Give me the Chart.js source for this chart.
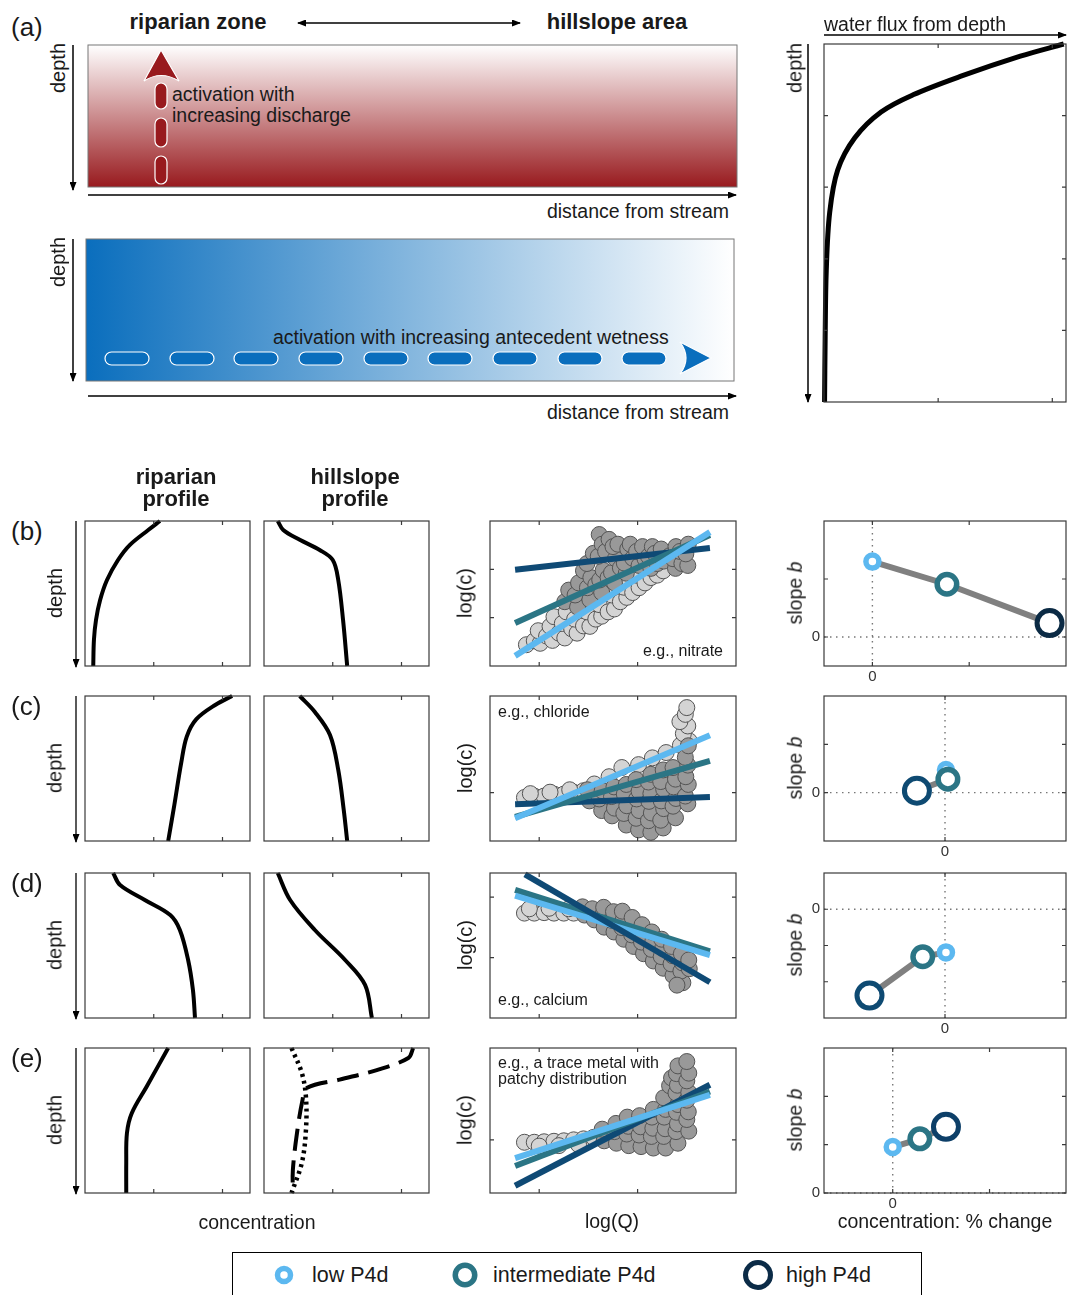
<!DOCTYPE html>
<html>
<head>
<meta charset="utf-8">
<script src="https://cdn.jsdelivr.net/npm/chart.js@4.4.0/dist/chart.umd.min.js"></script>
<style>
  body { margin: 0; width: 1067px; height: 1295px; overflow: hidden; background: #fff; position: relative;
         font-family: "Liberation Sans", Arial, sans-serif; color: #1a1a1a; }
  .t { position: absolute; white-space: nowrap; line-height: 1.15; }
  canvas { position: absolute; }
</style>
</head>
<body>
<svg width="1067" height="1295" style="position:absolute;left:0;top:0">
  <defs>
    <linearGradient id="gRed" x1="0" y1="0" x2="0" y2="1">
      <stop offset="0" stop-color="#ffffff"/><stop offset="1" stop-color="#981a1e"/>
    </linearGradient>
    <linearGradient id="gBlue" x1="0" y1="0" x2="1" y2="0">
      <stop offset="0" stop-color="#0a6ebd"/><stop offset="1" stop-color="#ffffff"/>
    </linearGradient>
    <marker id="ah" markerWidth="9" markerHeight="7" refX="8" refY="3.5" orient="auto-start-reverse" markerUnits="userSpaceOnUse">
      <path d="M0,0 L9,3.5 L0,7 z" fill="#000"/>
    </marker>
  </defs>
  <!-- (a) riparian box -->
  <rect x="88" y="45" width="649" height="142" fill="url(#gRed)" stroke="#777" stroke-width="1"/>
  <line x1="298" y1="23" x2="520" y2="23" stroke="#000" stroke-width="1.3" marker-start="url(#ah)" marker-end="url(#ah)"/>
  <line x1="73" y1="45" x2="73" y2="190" stroke="#000" stroke-width="1.5" marker-end="url(#ah)"/>
  <line x1="88" y1="195" x2="736" y2="195" stroke="#000" stroke-width="1.5" marker-end="url(#ah)"/>
  <g fill="#981a1e" stroke="#fff" stroke-width="1.2">
    <rect x="155" y="156" width="12" height="28" rx="6"/>
    <rect x="155" y="118" width="12" height="29" rx="6"/>
    <rect x="155" y="83" width="12" height="26" rx="6"/>
    <path d="M161,50 L179,81 Q161,70 144,81 Z"/>
  </g>
  <!-- (a) hillslope box -->
  <rect x="86" y="239" width="648" height="142" fill="url(#gBlue)" stroke="#777" stroke-width="1"/>
  <line x1="73" y1="239" x2="73" y2="381" stroke="#000" stroke-width="1.5" marker-end="url(#ah)"/>
  <line x1="88" y1="396" x2="736" y2="396" stroke="#000" stroke-width="1.5" marker-end="url(#ah)"/>
  <g fill="#0a6ebd" stroke="#fff" stroke-width="1.2">
    <rect x="105" y="352" width="44" height="13" rx="6.5"/>
    <rect x="170" y="352" width="44" height="13" rx="6.5"/>
    <rect x="234" y="352" width="44" height="13" rx="6.5"/>
    <rect x="299" y="352" width="44" height="13" rx="6.5"/>
    <rect x="364" y="352" width="44" height="13" rx="6.5"/>
    <rect x="428" y="352" width="44" height="13" rx="6.5"/>
    <rect x="493" y="352" width="44" height="13" rx="6.5"/>
    <rect x="558" y="352" width="44" height="13" rx="6.5"/>
    <rect x="622" y="352" width="44" height="13" rx="6.5"/>
    <path d="M711,358 L680,342 Q692,358 680,374 Z"/>
  </g>
  <!-- water flux axes arrows -->
  <line x1="824" y1="35" x2="1066" y2="35" stroke="#000" stroke-width="1.5" marker-end="url(#ah)"/>
  <line x1="808" y1="44" x2="808" y2="402" stroke="#000" stroke-width="1.5" marker-end="url(#ah)"/>
  <!-- row depth arrows -->
  <g stroke="#000" stroke-width="1.3">
    <line x1="76" y1="521" x2="76" y2="667" marker-end="url(#ah)"/>
    <line x1="76" y1="696" x2="76" y2="842" marker-end="url(#ah)"/>
    <line x1="76" y1="873" x2="76" y2="1019" marker-end="url(#ah)"/>
    <line x1="76" y1="1048" x2="76" y2="1194" marker-end="url(#ah)"/>
  </g>
  <!-- legend -->
  <rect x="232.5" y="1252.5" width="689" height="52" fill="none" stroke="#000" stroke-width="1"/>
  <circle cx="284" cy="1275" r="6.5" fill="#fff" stroke="#5cb8f0" stroke-width="5.5"/>
  <circle cx="465" cy="1275" r="9.75" fill="#fff" stroke="#2b7585" stroke-width="5.5"/>
  <circle cx="758" cy="1275" r="12.5" fill="#fff" stroke="#0b2b47" stroke-width="5"/>
</svg>

<script>
// ---------- data ----------
// depth profiles: [concentration, depth]
const ripB = [[1.09,0],[0.92,0.62],[0.65,1.66],[0.48,2.69],[0.32,4.07],[0.22,5.45],[0.16,6.83],[0.13,8.2],[0.12,10]];
const hillB = [[0.2,0],[0.28,0.62],[0.52,1.3],[0.81,2.0],[1.0,2.69],[1.08,4.07],[1.15,6.83],[1.21,10]];
const ripC = [[2.14,0],[1.9,0.6],[1.62,1.6],[1.48,2.8],[1.4,4.6],[1.3,7.5],[1.21,10]];
const hillC = [[0.52,0],[0.74,1.1],[0.96,2.69],[1.08,5.1],[1.16,7.86],[1.21,10]];
const ripD = [[0.41,0],[0.51,0.83],[0.87,1.86],[1.24,2.9],[1.38,3.93],[1.5,6.0],[1.57,8.07],[1.6,10]];
const hillD = [[0.2,0],[0.38,1.86],[0.74,3.93],[1.18,6.0],[1.47,7.72],[1.57,10]];
const ripE = [[1.21,0],[0.9,2.64],[0.68,4.5],[0.61,5.87],[0.6,7.93],[0.6,10]];
const hillEdot = [[0.4,0],[0.55,1.72],[0.61,3.38],[0.61,5.66],[0.55,7.93],[0.4,10]];
const hillEdash = [[2.17,0],[2.1,0.69],[1.64,1.52],[1.1,2.18],[0.62,2.76],[0.56,3.59],[0.48,5.86],[0.42,8.41],[0.42,10]];

// water flux from depth: [flux, depth]
const fluxCurve = [[2.1,0],[1.72,0.17],[1.2,0.45],[0.78,0.71],[0.5,0.95],[0.27,1.31],[0.12,1.76],[0.05,2.35],[0.02,3.16],[0.01,4.13],[0.005,5]];

// C-Q clouds: [log(Q), log(c)]
const cloudLightB = [[0.74,0.44],[0.9,0.52],[1.02,0.47],[0.98,0.73],[1.15,0.62],[1.27,0.53],[1.22,0.82],[1.3,1.02],[1.4,0.68],[1.52,0.58],[1.47,0.88],[1.55,1.12],[1.66,0.77],[1.77,0.68],[1.72,0.97],[1.9,0.83],[2.03,0.82],[1.97,1.12],[2.15,0.97],[2.27,1.03],[2.22,1.27],[2.4,1.12],[2.53,1.18],[2.47,1.47],[2.65,1.33],[2.78,1.42],[2.72,1.63],[2.9,1.52],[3.03,1.62],[2.97,1.88],[3.15,1.72],[3.27,1.83],[3.4,1.88],[3.52,1.97]];
const cloudDarkB = [[1.52,1.33],[1.6,1.57],[1.78,1.22],[1.73,1.47],[1.8,1.72],[1.9,1.97],[2.03,1.37],[1.98,1.62],[2.05,1.83],[1.97,2.12],[2.15,1.68],[2.1,2.33],[2.22,2.72],[2.27,1.52],[2.23,1.78],[2.3,1.98],[2.2,2.27],[2.28,2.52],[2.4,1.83],[2.35,2.37],[2.42,2.62],[2.53,1.72],[2.47,1.93],[2.55,2.22],[2.5,2.47],[2.65,2.03],[2.6,2.52],[2.77,1.92],[2.73,2.13],[2.8,2.42],[2.9,2.23],[2.85,2.52],[3.03,2.08],[2.98,2.37],[3.15,2.22],[3.1,2.47],[3.27,2.02],[3.22,2.27],[3.3,2.47],[3.4,2.12],[3.35,2.33],[3.53,2.17],[3.48,2.42],[3.65,2.28],[3.77,2.02],[3.72,2.22],[3.78,2.47],[3.9,2.12],[3.86,2.37],[4.02,2.08],[3.98,2.32],[4.03,2.52]];
const cloudLightC = [[0.7,0.9],[0.9,0.93],[1.1,0.93],[1.3,0.97],[1.5,0.97],[1.7,1.01],[1.9,1.04],[0.82,0.98],[1.22,1.01],[1.62,1.06],[2.12,1.18],[2.42,1.33],[2.68,1.52],[3.02,1.58],[3.3,1.72],[3.58,1.83],[3.87,1.98],[4.05,2.07],[3.93,2.22],[4.02,2.38],[3.86,2.47],[3.97,2.62],[4.0,2.76]];
const cloudDarkC = [[2.02,0.83],[1.98,1.06],[2.27,0.63],[2.22,0.87],[2.28,1.04],[2.48,0.52],[2.53,0.68],[2.47,0.92],[2.52,1.12],[2.77,0.33],[2.72,0.57],[2.78,0.73],[2.73,0.97],[2.77,1.17],[3.02,0.23],[2.97,0.47],[3.03,0.63],[2.98,0.87],[3.03,1.03],[2.97,1.27],[3.27,0.18],[3.22,0.42],[3.28,0.58],[3.23,0.82],[3.27,0.98],[3.22,1.22],[3.27,1.38],[3.52,0.27],[3.47,0.43],[3.53,0.67],[3.48,0.83],[3.53,1.07],[3.47,1.23],[3.52,1.47],[3.77,0.48],[3.72,0.72],[3.78,0.88],[3.73,1.12],[3.77,1.28],[3.72,1.52],[4.02,0.77],[3.97,0.93],[4.03,1.17],[3.98,1.33],[4.02,1.57],[3.97,1.73],[4.03,1.97]];
const cloudLightD = [[0.7,2.17],[0.9,2.17],[1.1,2.18],[1.3,2.17],[1.5,2.17],[1.7,2.17],[0.8,2.26],[1.2,2.27],[1.6,2.26]];
const cloudDarkD = [[1.92,2.13],[1.88,2.3],[2.12,2.03],[2.08,2.26],[2.32,1.88],[2.28,2.12],[2.31,2.29],[2.52,1.78],[2.48,2.02],[2.51,2.2],[2.72,1.63],[2.68,1.87],[2.71,2.04],[2.69,2.21],[2.92,1.48],[2.88,1.72],[2.91,1.89],[2.89,2.08],[3.12,1.33],[3.08,1.57],[3.11,1.74],[3.09,1.93],[3.32,1.18],[3.28,1.42],[3.31,1.59],[3.29,1.78],[3.52,1.03],[3.48,1.27],[3.51,1.44],[3.49,1.63],[3.72,0.88],[3.68,1.12],[3.71,1.29],[3.69,1.48],[3.92,0.73],[3.88,0.97],[3.91,1.14],[3.89,1.33],[4.05,1.02],[4.04,1.2],[3.8,0.68]];
const cloudLightE = [[0.7,1.05],[0.9,1.05],[1.1,1.06],[1.3,1.07],[1.5,1.08],[1.7,1.1],[1.9,1.12],[2.1,1.15],[1.0,0.97],[1.4,0.98],[1.8,1.0]];
const cloudDarkE = [[2.32,1.08],[2.28,1.32],[2.57,1.03],[2.53,1.27],[2.56,1.44],[2.82,0.98],[2.78,1.22],[2.81,1.38],[2.79,1.57],[3.07,0.96],[3.03,1.2],[3.06,1.37],[3.04,1.6],[3.32,0.93],[3.28,1.17],[3.31,1.34],[3.29,1.57],[3.32,1.73],[3.57,0.93],[3.53,1.17],[3.56,1.33],[3.54,1.57],[3.57,1.73],[3.53,1.97],[3.65,2.22],[3.69,2.38],[3.82,1.03],[3.78,1.27],[3.81,1.43],[3.79,1.67],[3.82,1.83],[3.78,2.07],[3.81,2.23],[3.79,2.47],[3.82,2.63],[4.04,1.28],[4.0,1.52],[4.03,1.68],[4.0,1.92],[4.04,2.08],[4.0,2.32],[4.04,2.48],[4.0,2.72]];

// fitted C-Q lines per P4d class: [low, intermediate, high], each [start, end]
const fitsB = [[[0.51,0.21],[4.47,2.77]], [[0.51,0.89],[4.47,2.71]], [[0.51,1.99],[4.47,2.44]]];
const fitsC = [[[0.51,0.47],[4.47,2.19]], [[0.51,0.5],[4.47,1.66]], [[0.51,0.76],[4.47,0.91]]];
const fitsD = [[[0.51,2.53],[4.47,1.3]], [[0.51,2.65],[4.47,1.38]], [[0.71,2.97],[4.47,0.74]]];
const fitsE = [[[0.51,0.72],[4.47,2.03]], [[0.51,0.56],[4.47,2.1]], [[0.51,0.15],[4.47,2.24]]];

// slope b vs concentration % change: [low, intermediate, high]
const slopeXB = [0, 0.77, 1.83],   slopeYB = [1.30, 0.91, 0.24];
const slopeXC = [0.01, 0.03, -0.29], slopeYC = [0.47, 0.28, 0.04];
const slopeXD = [0.01, -0.23, -0.78], slopeYD = [-1.19, -1.31, -2.38];
const slopeXE = [0, 0.28, 0.55],   slopeYE = [0.95, 1.12, 1.37];

// axis ranges and tick positions
const slopeXRange = [[-0.5, 2], [-1.25, 1.25], [-1.25, 1.25], [-0.71, 1.79]];
const slopeYRange = [[-0.5, 2], [-1, 2], [-3, 1], [0, 3]];
const slopeXTicks = [[0, 1], [0], [0], [0, 1]];
const slopeYTicks = [[0, 1], [0, 1], [-2, -1, 0], [0, 1, 2]];
const cqYTicks = [[1, 2], [1], [1.25, 2.5], [1.1]];
const seriesNames = ['low P4d', 'intermediate P4d', 'high P4d'];
const exampleLabels = ['e.g., nitrate', 'e.g., chloride', 'e.g., calcium', 'e.g., a trace metal with<br>patchy distribution'];

// ---------- drawing ----------
const COL = { low: '#5cb8f0', mid: '#2b7585', highLine: '#0f4a75' };
const highMark = ['#0b2a44', '#0e4a72', '#0e4a72', '#0d3f68'];
const rowTops = [521, 696, 873, 1048];
const pts = a => a.map(([x, y]) => ({ x, y }));
const FS = 19.5;

const frame = {
  id: 'frame',
  beforeDatasetsDraw(chart, args, o) {
    if (!o.zero) return;
    const { ctx, chartArea: c, scales: { x, y } } = chart;
    const px = x.getPixelForValue(0), py = y.getPixelForValue(0);
    ctx.save();
    ctx.strokeStyle = '#777'; ctx.lineWidth = 1.4; ctx.setLineDash([1.5, 4.5]);
    ctx.beginPath();
    ctx.moveTo(px, c.top); ctx.lineTo(px, c.bottom);
    ctx.moveTo(c.left, py); ctx.lineTo(c.right, py);
    ctx.stroke();
    ctx.restore();
  },
  afterDatasetsDraw(chart, args, o) {
    const { ctx, chartArea: c, scales: { x, y } } = chart;
    ctx.save();
    ctx.strokeStyle = '#3a3a3a'; ctx.lineWidth = 1.2;
    ctx.strokeRect(c.left, c.top, c.right - c.left, c.bottom - c.top);
    ctx.beginPath();
    (o.xt || []).forEach(v => {
      const p = x.getPixelForValue(v);
      ctx.moveTo(p, c.bottom); ctx.lineTo(p, c.bottom - 4);
      ctx.moveTo(p, c.top); ctx.lineTo(p, c.top + 4);
    });
    (o.yt || []).forEach(v => {
      const p = y.getPixelForValue(v);
      ctx.moveTo(c.left, p); ctx.lineTo(c.left + 4, p);
      ctx.moveTo(c.right, p); ctx.lineTo(c.right - 4, p);
    });
    ctx.stroke();
    if (o.zero) {
      ctx.fillStyle = '#333'; ctx.font = '15px "Liberation Sans", Arial, sans-serif';
      ctx.textAlign = 'center'; ctx.textBaseline = 'top';
      ctx.fillText('0', x.getPixelForValue(0), c.bottom + 3);
      ctx.textAlign = 'right'; ctx.textBaseline = 'middle';
      ctx.fillText('0', c.left - 4, y.getPixelForValue(0));
    }
    ctx.restore();
  }
};

function plot(box, datasets, xr, yr, frameOpts, reverseY) {
  const pad = 24;
  const cv = document.createElement('canvas');
  const w = box[2] + 2 * pad, h = box[3] + 2 * pad;
  cv.width = w; cv.height = h;
  cv.style.left = (box[0] - pad) + 'px'; cv.style.top = (box[1] - pad) + 'px';
  cv.style.width = w + 'px'; cv.style.height = h + 'px';
  document.body.appendChild(cv);
  new Chart(cv, {
    type: 'scatter',
    data: { datasets },
    options: {
      responsive: false, animation: false, devicePixelRatio: 1,
      layout: { padding: pad },
      plugins: { legend: { display: false }, tooltip: { enabled: false }, frame: frameOpts },
      scales: {
        x: { type: 'linear', display: false, min: xr[0], max: xr[1] },
        y: { type: 'linear', display: false, min: yr[0], max: yr[1], reverse: !!reverseY }
      }
    },
    plugins: [frame]
  });
}

const curve = (a, width, dash) => ({
  data: pts(a), showLine: true, borderColor: '#000', borderWidth: width || 4,
  borderDash: dash || [], pointRadius: 0, tension: 0.35, clip: 3
});

function txt(s, x, y, o = {}) {
  const d = document.createElement('div');
  d.className = 't'; d.innerHTML = s;
  d.style.left = x + 'px'; d.style.top = y + 'px';
  d.style.fontSize = (o.size || FS) + 'px';
  if (o.lh) d.style.lineHeight = o.lh;
  if (o.bold) d.style.fontWeight = 'bold';
  const ax = o.align === 'left' ? '0' : o.align === 'right' ? '-100%' : '-50%';
  if (!o.align) d.style.textAlign = 'center';
  d.style.transform = `translate(${ax},-50%)` + (o.rot ? ' rotate(-90deg)' : '');
  document.body.appendChild(d);
}

// water flux from depth
plot([824, 44, 242, 358], [curve(fluxCurve, 5)], [0, 2.12], [0, 5], { xt: [1, 2], yt: [1, 2, 3, 4] }, true);

const ripRows = [[ripB], [ripC], [ripD], [ripE]];
const hillRows = [[hillB], [hillC], [hillD], [hillEdot, hillEdash]];
const cloudRows = [[cloudLightB, cloudDarkB], [cloudLightC, cloudDarkC], [cloudLightD, cloudDarkD], [cloudLightE, cloudDarkE]];
const fitRows = [fitsB, fitsC, fitsD, fitsE];
const slopeRows = [[slopeXB, slopeYB], [slopeXC, slopeYC], [slopeXD, slopeYD], [slopeXE, slopeYE]];

rowTops.forEach((top, r) => {
  // concentration profiles
  plot([85, top, 165, 145], ripRows[r].map(a => curve(a)), [0, 2.4], [0, 10], { xt: [1, 2] }, true);
  const hs = hillRows[r].length === 2
    ? [curve(hillRows[r][0], 4.5, [3, 4]), curve(hillRows[r][1], 4, [22, 10])]
    : [curve(hillRows[r][0])];
  plot([264, top, 165, 145], hs, [0, 2.4], [0, 10], { xt: [1, 2] }, true);

  // C-Q scatter with fitted lines
  const line = (pair, color) => ({ data: pts(pair), showLine: true, borderColor: color, borderWidth: 6, pointRadius: 0, borderCapStyle: 'butt', clip: 4 });
  const fits = fitRows[r];
  const lines = [line(fits[0], COL.low), line(fits[1], COL.mid), line(fits[2], COL.highLine)];
  if (r === 2) lines.unshift(lines.pop());
  const [light, dark] = cloudRows[r];
  const dots = (a, fill) => ({ data: pts(a), pointRadius: 8, pointBackgroundColor: fill, pointBorderColor: '#545454', pointBorderWidth: 1 });
  plot([490, top, 246, 145], [...lines, dots(dark, '#999999'), dots(light, '#d4d4d4')], [0, 5], [0, 3], { xt: [1, 3], yt: cqYTicks[r] });

  // slope b vs % change
  const [sx, sy] = slopeRows[r];
  plot([824, top, 242, 145], [{
    label: seriesNames.join(' / '),
    data: sx.map((x, i) => ({ x, y: sy[i] })), showLine: true,
    borderColor: '#808080', borderWidth: 6, tension: 0,
    pointRadius: [6.5, 9.75, 12.5], pointBorderWidth: [5.5, 5.5, 5],
    pointBorderColor: [COL.low, COL.mid, highMark[r]], pointBackgroundColor: '#fff', clip: false
  }], slopeXRange[r], slopeYRange[r], { xt: slopeXTicks[r], yt: slopeYTicks[r], zero: true });

  // row labels
  txt(['(b)', '(c)', '(d)', '(e)'][r], 11, top + 11, { align: 'left', size: 26 });
  txt('depth', 55, top + 72, { rot: true, size: 20 });
  txt('log(c)', 465, top + 72, { rot: true, size: 20 });
  txt('slope <i>b</i>', 795, top + 72, { rot: true });
});

// example labels in C-Q panels
txt(exampleLabels[0], 723, 651, { align: 'right', size: 16 });
txt(exampleLabels[1], 498, 712, { align: 'left', size: 16 });
txt(exampleLabels[2], 498, 1000, { align: 'left', size: 16 });
txt(exampleLabels[3], 498, 1071.5, { align: 'left', size: 16, lh: 1.06 });

// panel (a) text
txt('(a)', 11, 28, { align: 'left', size: 26 });
txt('riparian zone', 198, 22, { bold: true, size: 22 });
txt('hillslope area', 617, 22, { bold: true, size: 22 });
txt('depth', 58, 68, { rot: true, size: 20 });
txt('depth', 58, 262, { rot: true, size: 20 });
txt('activation with<br>increasing discharge', 172, 104.5, { align: 'left', lh: 1.1 });
txt('distance from stream', 729, 211, { align: 'right' });
txt('distance from stream', 729, 412, { align: 'right' });
txt('activation with increasing antecedent wetness', 273, 337, { align: 'left' });
txt('water flux from depth', 824, 24, { align: 'left' });
txt('depth', 795, 68, { rot: true, size: 20 });

// column headers and bottom axis titles
txt('riparian<br>profile', 176, 488, { bold: true, size: 22, lh: 1.0 });
txt('hillslope<br>profile', 355, 488, { bold: true, size: 22, lh: 1.0 });
txt('concentration', 257, 1222);
txt('log(Q)', 612, 1221);
txt('concentration: % change', 945, 1221);

// legend text
txt(seriesNames[0], 312, 1275, { align: 'left', size: 21.5 });
txt(seriesNames[1], 493, 1275, { align: 'left', size: 21.5 });
txt(seriesNames[2], 786, 1275, { align: 'left', size: 21.5 });
</script>
</body>
</html>
